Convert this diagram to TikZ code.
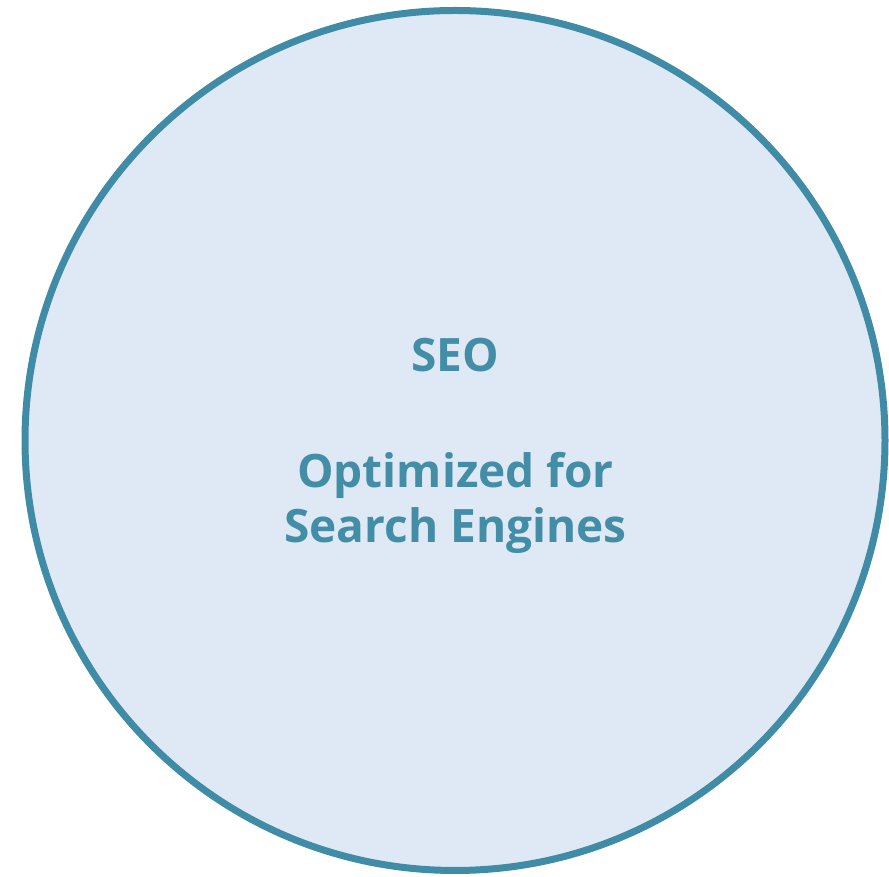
\documentclass[tikz,border=0pt]{standalone}
\usepackage{fontspec}
\setmainfont{Open Sans}
\definecolor{ringc}{RGB}{64,139,166}
\definecolor{fillc}{RGB}{222,233,245}
\definecolor{txtc}{RGB}{67,142,166}
\begin{document}
\begin{tikzpicture}[x=1pt,y=1pt,
  lbl/.style={text=txtc,font=\bfseries\fontsize{46}{55}\selectfont,inner sep=0pt,anchor=base}]
\useasboundingbox (0,0) rectangle (889,877);
\node[circle,draw=ringc,fill=fillc,line width=7pt,minimum size=860pt,inner sep=0pt] (c) at (455,436.5) {};
\node[lbl] (seo) at (455.5,505) {SEO};
\node[lbl] (opt) at (455.5,389) {Optimized for};
\node[lbl] (se) at (455.5,334) {Search Engines};
\end{tikzpicture}
\end{document}
